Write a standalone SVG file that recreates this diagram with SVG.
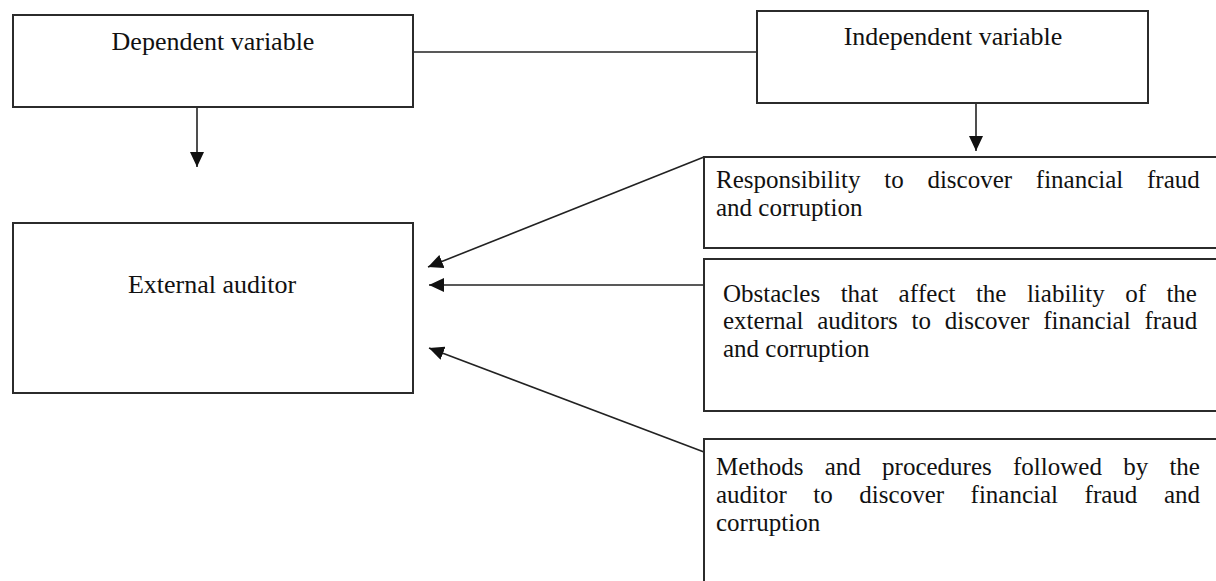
<svg xmlns="http://www.w3.org/2000/svg" width="1216" height="581" viewBox="0 0 1216 581">
<style>
.box{fill:#fff;stroke:#2b2b2b;stroke-width:2}
.c{fill:none;stroke:#222;stroke-width:1.6}
.t{font-family:"Liberation Serif","Times New Roman",serif;fill:#111;font-kerning:none;font-variant-ligatures:none}
.h{font-size:26px;text-anchor:middle}
.b{font-size:25px}
.s{font-size:25px}
</style>
<defs>
<marker id="ah" markerUnits="userSpaceOnUse" markerWidth="16" markerHeight="14" refX="15" refY="7" orient="auto">
<path d="M0,0 L15,7 L0,14 Z" fill="#111"/>
</marker>
</defs>
<g id="connectors">
<line class="c" x1="413" y1="52" x2="757" y2="52"/>
<line class="c" x1="197" y1="107" x2="197" y2="167" marker-end="url(#ah)"/>
<line class="c" x1="976" y1="103" x2="976" y2="151" marker-end="url(#ah)"/>
<line class="c" x1="704" y1="157" x2="428" y2="267" marker-end="url(#ah)"/>
<line class="c" x1="704" y1="285" x2="429" y2="285" marker-end="url(#ah)"/>
<line class="c" x1="704" y1="452" x2="429" y2="348" marker-end="url(#ah)"/>
</g>
<g id="dependent">
<rect class="box" x="13" y="15" width="400" height="92"/>
<text class="t h" x="213" y="50">Dependent variable</text>
</g>
<g id="independent">
<rect class="box" x="757" y="11" width="391" height="92"/>
<text class="t h" x="953" y="45">Independent variable</text>
</g>
<g id="external">
<rect class="box" x="13" y="223" width="400" height="170"/>
<text class="t h" x="212" y="293">External auditor</text>
</g>
<g id="responsibility">
<rect class="box" x="704" y="157" width="530" height="91"/>
<text class="t s" x="716" y="188" word-spacing="17.5">Responsibility to discover financial fraud</text>
<text class="t s" x="716" y="216">and corruption</text>
</g>
<g id="obstacles">
<rect class="box" x="704" y="259" width="530" height="152"/>
<text class="t b" x="723" y="301.5" word-spacing="14.2">Obstacles that affect the liability of the</text>
<text class="t b" x="723" y="329" word-spacing="7.5">external auditors to discover financial fraud</text>
<text class="t b" x="723" y="356.5">and corruption</text>
</g>
<g id="methods">
<rect class="box" x="704" y="439" width="530" height="160"/>
<text class="t s" x="716" y="475" word-spacing="15">Methods and procedures followed by the</text>
<text class="t s" x="716" y="503" word-spacing="20.3">auditor to discover financial fraud and</text>
<text class="t s" x="716" y="531">corruption</text>
</g>
</svg>
